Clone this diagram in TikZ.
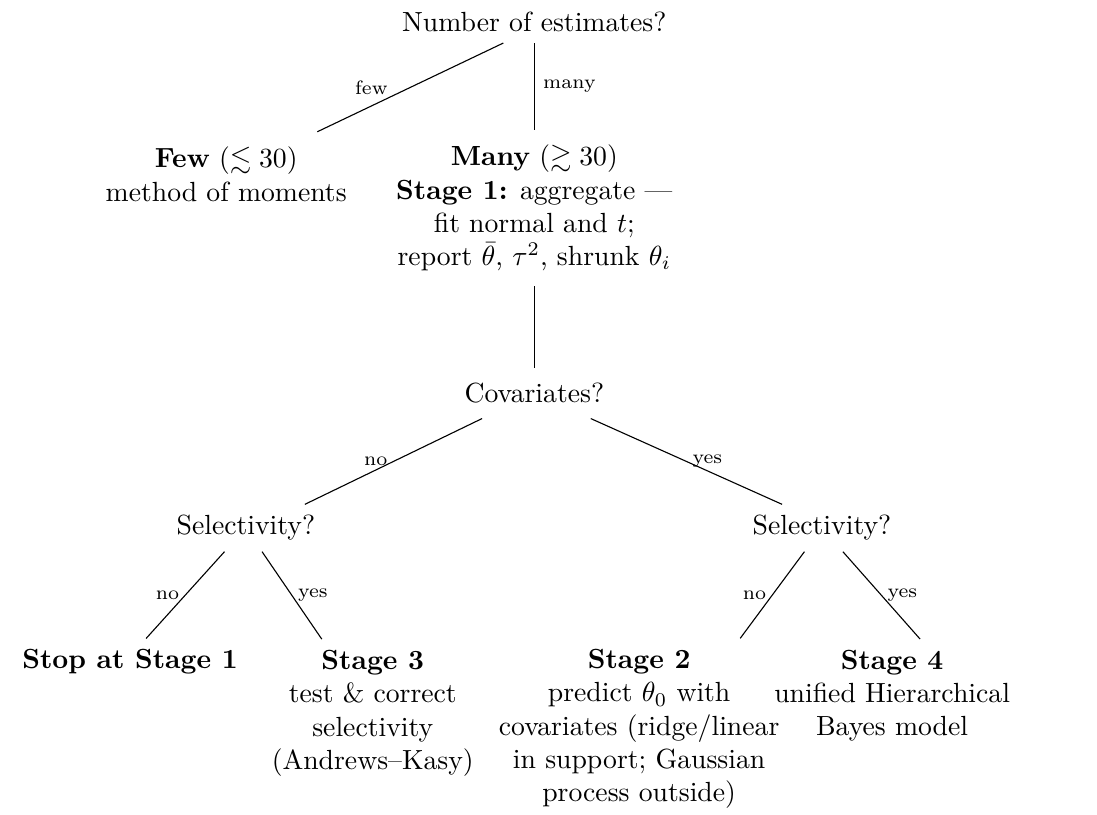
\documentclass[tikz,border=0pt]{standalone}
\usepackage{amsmath}
\usepackage{amssymb}
\usetikzlibrary{calc}
\tikzset{%
    question/.style={inner sep=4pt,outer sep=0pt,shape=rectangle,align=center},
    outcome/.style={inner sep=4pt,outer sep=0pt,shape=rectangle,align=center},
    upper/.style={outcome,inner sep=5.5pt},
    branch/.style={font=\scriptsize,inner sep=2pt},
}

\begin{document}
\begin{tikzpicture}
        \useasboundingbox (0,0) rectangle (13.92,-10.34);

        \node[question] (root) at (6.78,-0.28) {Number of estimates?};
        \node[upper] (few) at (2.87,-2.21) {\textbf{Few} ($\lesssim 30$)\\method of moments};
        \node[upper] (many) at (6.78,-2.64) {\textbf{Many} ($\gtrsim 30$)\\\textbf{Stage 1:} aggregate ---\\fit normal and $t$;\\report $\bar{\theta}$, $\tau^2$, shrunk $\theta_i$};

        \node[question,inner sep=5.5pt] (cov) at (6.78,-4.99) {Covariates?};
        \node[question] (selL) at (3.12,-6.70) {Selectivity?};
        \node[question] (selR) at (10.43,-6.70) {Selectivity?};

        \node[outcome] (stop) at (1.65,-8.40) {\textbf{Stop at Stage 1}};
        \node[outcome] (st3) at (4.73,-9.05) {\textbf{Stage 3}\\test \& correct\\selectivity\\(Andrews--Kasy)};
        \node[outcome] (st2) at (8.11,-9.25) {\textbf{Stage 2}\\predict $\theta_0$ with\\covariates (ridge/linear\\in support; Gaussian\\process outside)};
        \node[outcome] (st4) at (11.32,-8.83) {\textbf{Stage 4}\\unified Hierarchical\\Bayes model};

        % first split
        \draw ([xshift=-11.2pt]root.south) -- ([xshift=32.9pt]few.north) node[branch,midway,left=6pt] {few};
        \draw (root.south) -- (many.north) node[branch,midway,right=1pt] {many};
        \draw (many.south) -- (cov.north);

        % covariates
        \draw (cov) -- ([xshift=21.3pt]selL.north) node[branch,midway,left] {no};
        \draw (cov) -- ([xshift=-14.4pt]selR.north) node[branch,midway,right] {yes};

        % selectivity
        \draw (selL) -- ([xshift=5.8pt]stop.north) node[branch,midway,left] {no};
        \draw (selL) -- ([xshift=-18.4pt]st3.north) node[branch,midway,right] {yes};
        \draw (selR) -- ([xshift=36.5pt]st2.north) node[branch,midway,left] {no};
        \draw (selR) -- ([xshift=10.1pt]st4.north) node[branch,midway,right] {yes};
    \end{tikzpicture}
\end{document}
